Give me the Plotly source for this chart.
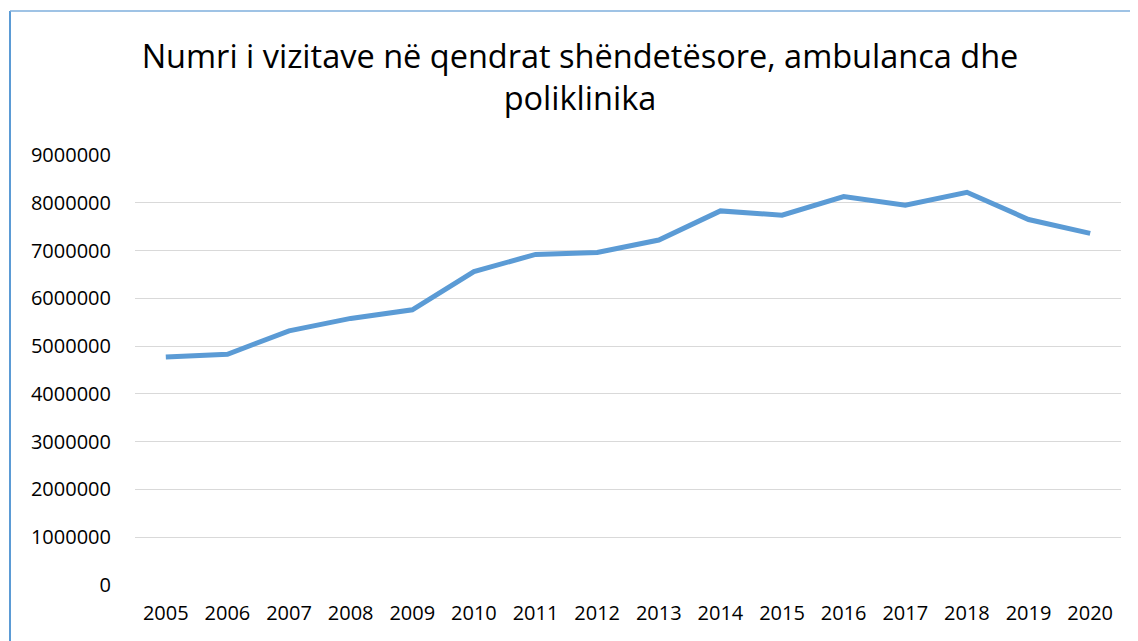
import plotly.graph_objects as go

years = ["2005", "2006", "2007", "2008", "2009", "2010", "2011", "2012",
         "2013", "2014", "2015", "2016", "2017", "2018", "2019", "2020"]
visits = [4770000, 4830000, 5320000, 5580000, 5760000, 6560000, 6920000, 6960000,
          7220000, 7830000, 7740000, 8130000, 7950000, 8220000, 7650000, 7360000]
y_ticks = [0, 1000000, 2000000, 3000000, 4000000, 5000000, 6000000, 7000000, 8000000, 9000000]
title_text = "Numri i vizitave në qendrat shëndetësore, ambulanca dhe<br>poliklinika"

# page body has an 8px margin, so the figure is drawn offset by 8px
OFF = 8
W, H = 1138 - OFF, 641 - OFF
ML, MT = 135 - OFF, 155 - OFF
pw, ph = 986, 430
MR, MB = W - ML - pw, H - MT - ph

fig = go.Figure()
fig.add_trace(go.Scatter(
    x=years, y=visits, mode="lines",
    line=dict(color="#5B9BD5", width=5),
    hoverinfo="x+y", showlegend=False,
))

font_family = "Open Sans, Noto Sans, sans-serif"

fig.update_layout(
    width=W, height=H,
    margin=dict(l=ML, r=MR, t=MT, b=MB),
    paper_bgcolor="white", plot_bgcolor="white",
    title=dict(text=title_text, x=(580 - OFF) / W, xanchor="center",
               y=1 - 60 / H, yanchor="top", yref="container",
               font=dict(family=font_family, size=32.5, color="#000000")),
    xaxis=dict(type="category", range=[-0.5, len(years) - 0.5],
               showgrid=False, showline=False, ticks="",
               tickfont=dict(family=font_family, size=20, color="#000000"),
               ticklabelstandoff=14, fixedrange=True),
    yaxis=dict(range=[0, 9000000], tickvals=y_ticks, tickformat="d",
               showgrid=True, gridcolor="#D9D9D9", gridwidth=1.3,
               zeroline=False, showline=False, ticks="",
               tickfont=dict(family=font_family, size=20, color="#000000"),
               ticklabelstandoff=23, fixedrange=True),
    shapes=[
        dict(type="line", xref="paper", yref="paper",
             x0=(10 - OFF - ML) / pw, x1=(10 - OFF - ML) / pw,
             y0=(H - MB - (11 - OFF)) / ph, y1=-MB / ph - 0.05,
             line=dict(color="#5B9BD5", width=2)),
        dict(type="line", xref="paper", yref="paper",
             x0=(10 - OFF - ML) / pw, x1=(W + 5 - ML) / pw,
             y0=(H - MB - (11 - OFF)) / ph, y1=(H - MB - (11 - OFF)) / ph,
             line=dict(color="#7FAFDD", width=1.5)),
    ],
)

fig.write_html("out.html")
